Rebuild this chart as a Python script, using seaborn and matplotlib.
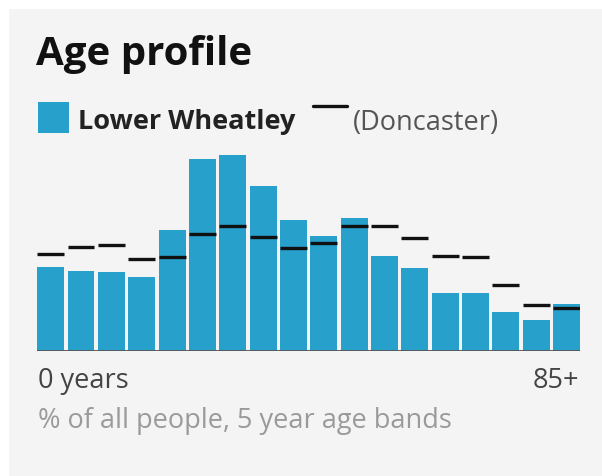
import matplotlib
matplotlib.use("Agg")
import matplotlib.pyplot as plt
import seaborn as sns
import pandas as pd
from matplotlib.patches import Rectangle
from matplotlib.lines import Line2D

# Data: % of all people, 5-year age bands (0-4 ... 85+)
age_bands = ["0-4", "5-9", "10-14", "15-19", "20-24", "25-29", "30-34", "35-39",
             "40-44", "45-49", "50-54", "55-59", "60-64", "65-69", "70-74",
             "75-79", "80-84", "85+"]
lower_wheatley = [4.73, 4.53, 4.44, 4.16, 6.84, 10.86, 11.10, 9.31, 7.42,
                  6.52, 7.52, 5.35, 4.67, 3.25, 3.25, 2.18, 1.74, 2.65]
doncaster = [5.50, 5.89, 5.99, 5.20, 5.31, 6.59, 7.08, 6.46, 5.80,
             6.10, 7.08, 7.08, 6.39, 5.38, 5.29, 3.72, 2.61, 2.40]

title = "Age profile"
area_label = "Lower Wheatley"
compare_label = "(Doncaster)"
x_left_label = "0 years"
x_right_label = "85+"
note = "% of all people, 5 year age bands"

BAR = "#27a0cc"
BG = "#f4f4f4"
W, H = 602, 477

sns.set_theme(style="white")
plt.rcParams["font.family"] = ["Open Sans", "DejaVu Sans"]

fig = plt.figure(figsize=(W / 100, H / 100), dpi=100)
fig.patch.set_facecolor("white")

def fx(x):
    return x / W

def fy(y):
    return 1 - y / H

# panel background
fig.patches.append(Rectangle((fx(9), 0), 1 - fx(9), fy(10), transform=fig.transFigure,
                             facecolor=BG, edgecolor="none", zorder=-10))

left, right, top, base = 37.3, 580.0, 150.0, 351.7
ax = fig.add_axes([fx(left), fy(base), (right - left) / W, (base - top) / H])
ax.set_facecolor("none")

df = pd.DataFrame({"band": age_bands, "pct": lower_wheatley, "don": doncaster})
bw = 0.885
sns.barplot(data=df, x="band", y="pct", color=BAR, saturation=1, width=bw, ax=ax,
            edgecolor="none", linewidth=0)
xs = range(len(age_bands))
ax.hlines(df["don"], [i - bw / 2 for i in xs], [i + bw / 2 for i in xs],
          colors="#111111", linewidth=2.4, zorder=5)
ax.axhline(0, color="#555555", linewidth=1.3, zorder=6)

ax.set_xlim(-bw / 2, len(age_bands) - 1 + bw / 2)
ax.set_ylim(0, (base - top) / 17.65)
ax.set_xticks([])
ax.set_yticks([])
ax.set_xlabel("")
ax.set_ylabel("")
for s in ax.spines.values():
    s.set_visible(False)

FS = 19.5
# titles and legend
fig.text(fx(36), fy(65), title, fontsize=29, fontweight="bold", color="#111111",
         va="baseline", ha="left")
fig.patches.append(Rectangle((fx(37.7), fy(134.3)), fx(31.3), 31 / H,
                             transform=fig.transFigure, facecolor=BAR, edgecolor="none"))
fig.text(fx(78), fy(129), area_label, fontsize=FS, fontweight="bold", color="#222222",
         va="baseline", ha="left")
fig.lines.append(Line2D([fx(313), fx(347)], [fy(106.5), fy(106.5)], transform=fig.transFigure,
                        color="#111111", linewidth=2.4))
fig.text(fx(352.5), fy(129.5), compare_label, fontsize=FS, color="#555555",
         va="baseline", ha="left")

fig.text(fx(37.5), fy(388), x_left_label, fontsize=FS, color="#444444",
         va="baseline", ha="left")
fig.text(fx(579), fy(388), x_right_label, fontsize=FS, color="#444444",
         va="baseline", ha="right")
fig.text(fx(37.5), fy(428), note, fontsize=FS, color="#9a9a9a",
         va="baseline", ha="left")

fig.savefig("out.png", dpi=100, facecolor=fig.get_facecolor())
